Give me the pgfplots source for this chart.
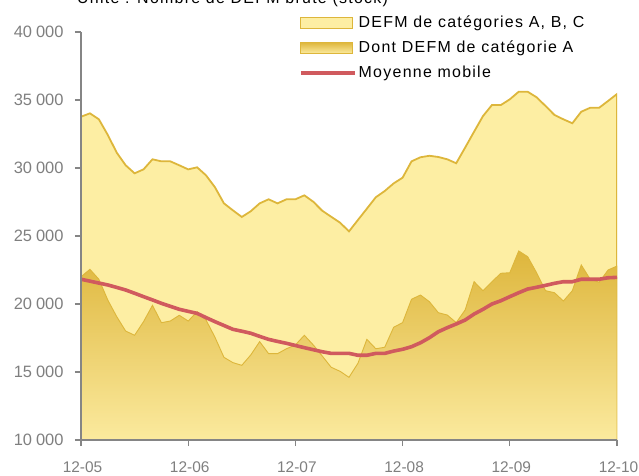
\documentclass[border=0pt]{standalone}
\usepackage{pgfplots}
\pgfplotsset{compat=1.18}
\usepackage{fontspec}
\setmainfont{Liberation Sans}[LetterSpace=8]
\newfontfamily\tickfont{Liberation Sans}
\definecolor{abcfill}{HTML}{FDEEA3}
\definecolor{gold}{HTML}{DDB63B}
\definecolor{goldtop}{HTML}{DEB63C}
\definecolor{goldbot}{HTML}{FBEA9E}
\definecolor{mmred}{HTML}{D05A5E}
\definecolor{axgray}{HTML}{858585}
\definecolor{txtgray}{HTML}{7F7F7F}
\pgfplotsset{
  arealeg/.style={legend image code/.code={\draw[##1, line width=1.2bp] (0bp,-5.5bp) rectangle (52bp,5.5bp);}},
  lineleg/.style={legend image code/.code={\draw[##1] (0bp,0bp) -- (54bp,0bp);}},
}
\newcommand{\thsep}[2]{#1\hspace{4bp}#2}
\begin{document}
\begin{tikzpicture}
\path[use as bounding box] (0,0) rectangle (639bp,-476bp);
\node[anchor=base west, font=\fontsize{16}{19}\selectfont, inner sep=0] at (77bp,-3bp) {Unité : Nombre de DEFM brute (stock)};
\begin{axis}[
  at={(81bp,-440bp)}, anchor=south west,
  scale only axis, width=536bp, height=408bp,
  xmin=0, xmax=60, ymin=10000, ymax=40000,
  axis x line*=bottom, axis y line*=left,
  axis line style={axgray, line width=1.2bp},
  tick style={axgray, line width=1.2bp},
  tick align=outside, major tick length=6bp,
  scaled y ticks=false,
  xtick={0,12,24,36,48,60},
  xticklabels={12-05,12-06,12-07,12-08,12-09,12-10},
  ytick={10000,15000,20000,25000,30000,35000,40000},
  yticklabels={\thsep{10}{000},\thsep{15}{000},\thsep{20}{000},\thsep{25}{000},\thsep{30}{000},\thsep{35}{000},\thsep{40}{000}},
  yticklabel style={xshift=-8bp, font=\tickfont\fontsize{16.5}{19}\selectfont},
  xticklabel style={yshift=-12bp, xshift=1.5bp, font=\tickfont\fontsize{15.5}{19}\selectfont},
  tick label style={text=txtgray},
  axis on top,
  legend style={at={(0.4065,1.0446)}, anchor=north west, draw=none, fill=none,
    font=\fontsize{16}{19}\selectfont, row sep=8bp, inner sep=0pt},
  legend cell align=left,
]
\addplot[fill=abcfill, draw=gold, line width=1.8bp, arealeg]
coordinates {
(0,10000) (0,33770) (1,34020) (2,33580) (3,32430) (4,31130) (5,30200) (6,29610) (7,29900) (8,30640) (9,30490)
(10,30490) (11,30200) (12,29900) (13,30050) (14,29460) (15,28580) (16,27400) (17,26890) (18,26400) (19,26820)
(20,27400) (21,27700) (22,27400) (23,27700) (24,27700) (25,27990) (26,27520) (27,26860) (28,26420) (29,25980)
(30,25340) (31,26180) (32,27010) (33,27850) (34,28310) (35,28870) (36,29290) (37,30490) (38,30790) (39,30900)
(40,30810) (41,30640) (42,30350) (43,31500) (44,32670) (45,33820) (46,34630) (47,34630) (48,35050) (49,35610)
(50,35610) (51,35200) (52,34560) (53,33900) (54,33580) (55,33290) (56,34140) (57,34430) (58,34430) (59,34930)
(60,35440) (60,10000)
};
\addlegendentry{DEFM de catégories A, B, C}
\addplot[top color=goldtop, bottom color=goldbot, draw=gold, line width=0.9bp, arealeg]
coordinates {
(0,10000) (0,22000) (1,22550) (2,21820) (3,20290) (4,19070) (5,18010) (6,17700) (7,18700) (8,19900) (9,18625)
(10,18750) (11,19170) (12,18750) (13,19430) (14,18820) (15,17550) (16,16080) (17,15690) (18,15490) (19,16250)
(20,17230) (21,16350) (22,16350) (23,16710) (24,16990) (25,17700) (26,16990) (27,16180) (28,15350) (29,15050)
(30,14610) (31,15640) (32,17400) (33,16710) (34,16820) (35,18290) (36,18630) (37,20350) (38,20660) (39,20170)
(40,19360) (41,19190) (42,18630) (43,19560) (44,21640) (45,20980) (46,21640) (47,22260) (48,22300) (49,23900)
(50,23480) (51,22300) (52,20980) (53,20830) (54,20220) (55,20980) (56,22870) (57,21820) (58,21600) (59,22500)
(60,22790) (60,10000)
};
\addlegendentry{Dont DEFM de catégorie A}
\addplot[mmred, line width=3.6bp, lineleg]
coordinates {
(0,21820) (1,21680) (2,21540) (3,21400) (4,21220) (5,21030) (6,20790) (7,20540) (8,20300) (9,20050)
(10,19830) (11,19610) (12,19460) (13,19310) (14,19000) (15,18700) (16,18420) (17,18140) (18,18000) (19,17850)
(20,17620) (21,17400) (22,17250) (23,17110) (24,16950) (25,16790) (26,16640) (27,16490) (28,16370) (29,16370)
(30,16370) (31,16230) (32,16230) (33,16370) (34,16370) (35,16540) (36,16670) (37,16860) (38,17150) (39,17520)
(40,17960) (41,18260) (42,18530) (43,18820) (44,19260) (45,19610) (46,20000) (47,20240) (48,20540) (49,20830)
(50,21100) (51,21230) (52,21370) (53,21520) (54,21640) (55,21640) (56,21820) (57,21820) (58,21820) (59,21930)
(60,21960)
};
\addlegendentry{Moyenne mobile}
\end{axis}
\end{tikzpicture}
\end{document}
